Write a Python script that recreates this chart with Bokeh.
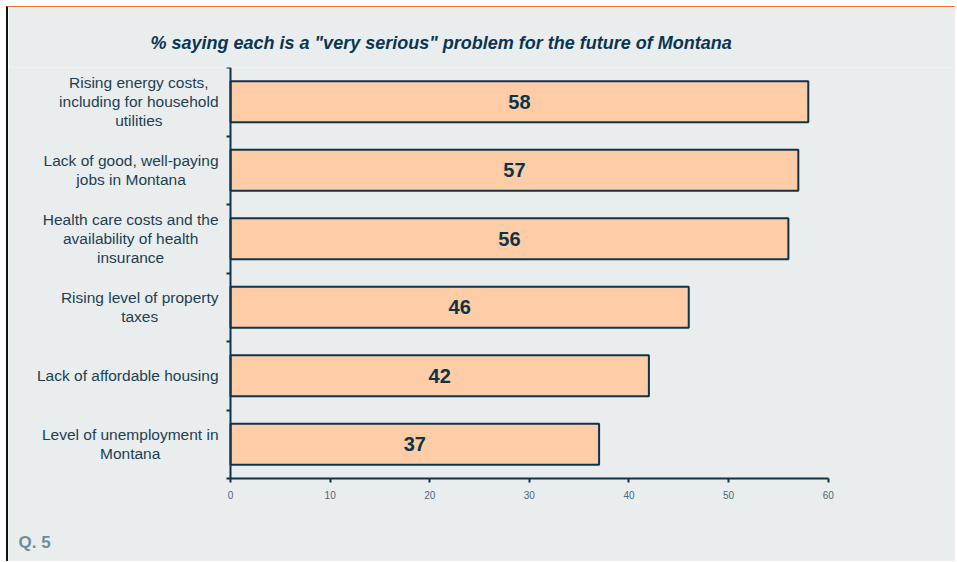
from bokeh.plotting import figure
from bokeh.models import ColumnDataSource, FixedTicker, Range1d, Title, Label
from bokeh.core.properties import value
from bokeh.embed import file_html
from bokeh.resources import INLINE

# ---- data (top to bottom as shown) ----
categories = [
    "Rising energy costs,\nincluding for household\nutilities",
    "Lack of good, well-paying\njobs in Montana",
    "Health care costs and the\navailability of health\ninsurance",
    "Rising level of property\ntaxes",
    "Lack of affordable housing",
    "Level of unemployment in\nMontana",
]
values = [58, 57, 56, 46, 42, 37]
x_ticks = [0, 10, 20, 30, 40, 50, 60]
title_text = '% saying each is a "very serious" problem for the future of Montana'
note_text = "Q. 5"

# ---- styling ----
BG = "#e9edee"
NAVY = "#0f3349"
BAR = "#fecca6"
FONT = "Liberation Sans"

n = len(categories)
centers = [n - 1 - i + 0.5 for i in range(n)]   # band centres, top row first
bounds = list(range(n + 1))                      # band boundaries (tick marks)

src = ColumnDataSource(dict(
    y=centers, v=values,
    half=[v / 2 for v in values],
    txt=[str(v) for v in values],
    cat=categories,
))

p = figure(
    width=949, height=555,
    x_range=Range1d(-22.29, 72.98), y_range=Range1d(-1.226, n),
    output_backend="svg", toolbar_location=None,
    min_border_left=0, min_border_right=0,
    min_border_top=60, min_border_bottom=0,
)
p.background_fill_color = BG
p.border_fill_color = BG
p.outline_line_color = None
p.xgrid.visible = False
p.ygrid.visible = False
p.styles = {"margin-left": "6px", "margin-top": "6px",
            "border-left": "2px solid #111111", "border-top": "1px solid #f7701f"}

p.hbar(y="y", right="v", left=0, height=0.6, source=src,
       fill_color=BAR, line_color=NAVY, line_width=2)

p.text(x="half", y="y", text="txt", source=src,
       text_align="center", text_baseline="middle",
       text_font=value(FONT), text_font_style="bold",
       text_font_size="20px", text_color="#0c3449")

# category labels: block right-anchored, lines centred
p.text(x=0, y="y", text="cat", source=src, x_offset=-12,
       anchor="center_right", text_align="center", text_baseline="middle",
       text_font=value(FONT), text_font_size="15.5px", text_line_height=1.12,
       text_color="#1e3f52")

# y axis at x = 0, ticks on band boundaries
ya = p.yaxis[0]
ya.fixed_location = 0
ya.bounds = (0, n)
ya.ticker = FixedTicker(ticks=bounds, minor_ticks=[])
ya.axis_line_color = NAVY
ya.axis_line_width = 2
ya.major_tick_line_color = NAVY
ya.major_tick_line_width = 2
ya.major_tick_in = 0
ya.major_tick_out = 4
ya.minor_tick_line_color = None
ya.major_label_text_color = None

# x axis at y = 0
xa = p.xaxis[0]
xa.fixed_location = 0
xa.bounds = (0, 60)
xa.ticker = FixedTicker(ticks=x_ticks, minor_ticks=[])
xa.axis_line_color = NAVY
xa.axis_line_width = 2
xa.major_tick_line_color = NAVY
xa.major_tick_line_width = 2
xa.major_tick_in = 0
xa.major_tick_out = 4
xa.minor_tick_line_color = None
xa.major_label_text_font = FONT
xa.major_label_text_font_size = "10px"
xa.major_label_text_color = "#4c6777"
xa.major_label_standoff = 8

p.title = Title(text=title_text, align="left", offset=142, standoff=30,
                text_font=FONT, text_font_style="bold italic",
                text_font_size="18px", text_color="#0b3550")
p.add_layout(Label(x=10, y=20, x_units="screen", y_units="screen",
                   text=note_text, text_align="left", text_baseline="middle",
                   text_font=FONT, text_font_style="bold",
                   text_font_size="17px", text_color="#6f8d99"))

open("out.html", "w").write(file_html(p, INLINE))
